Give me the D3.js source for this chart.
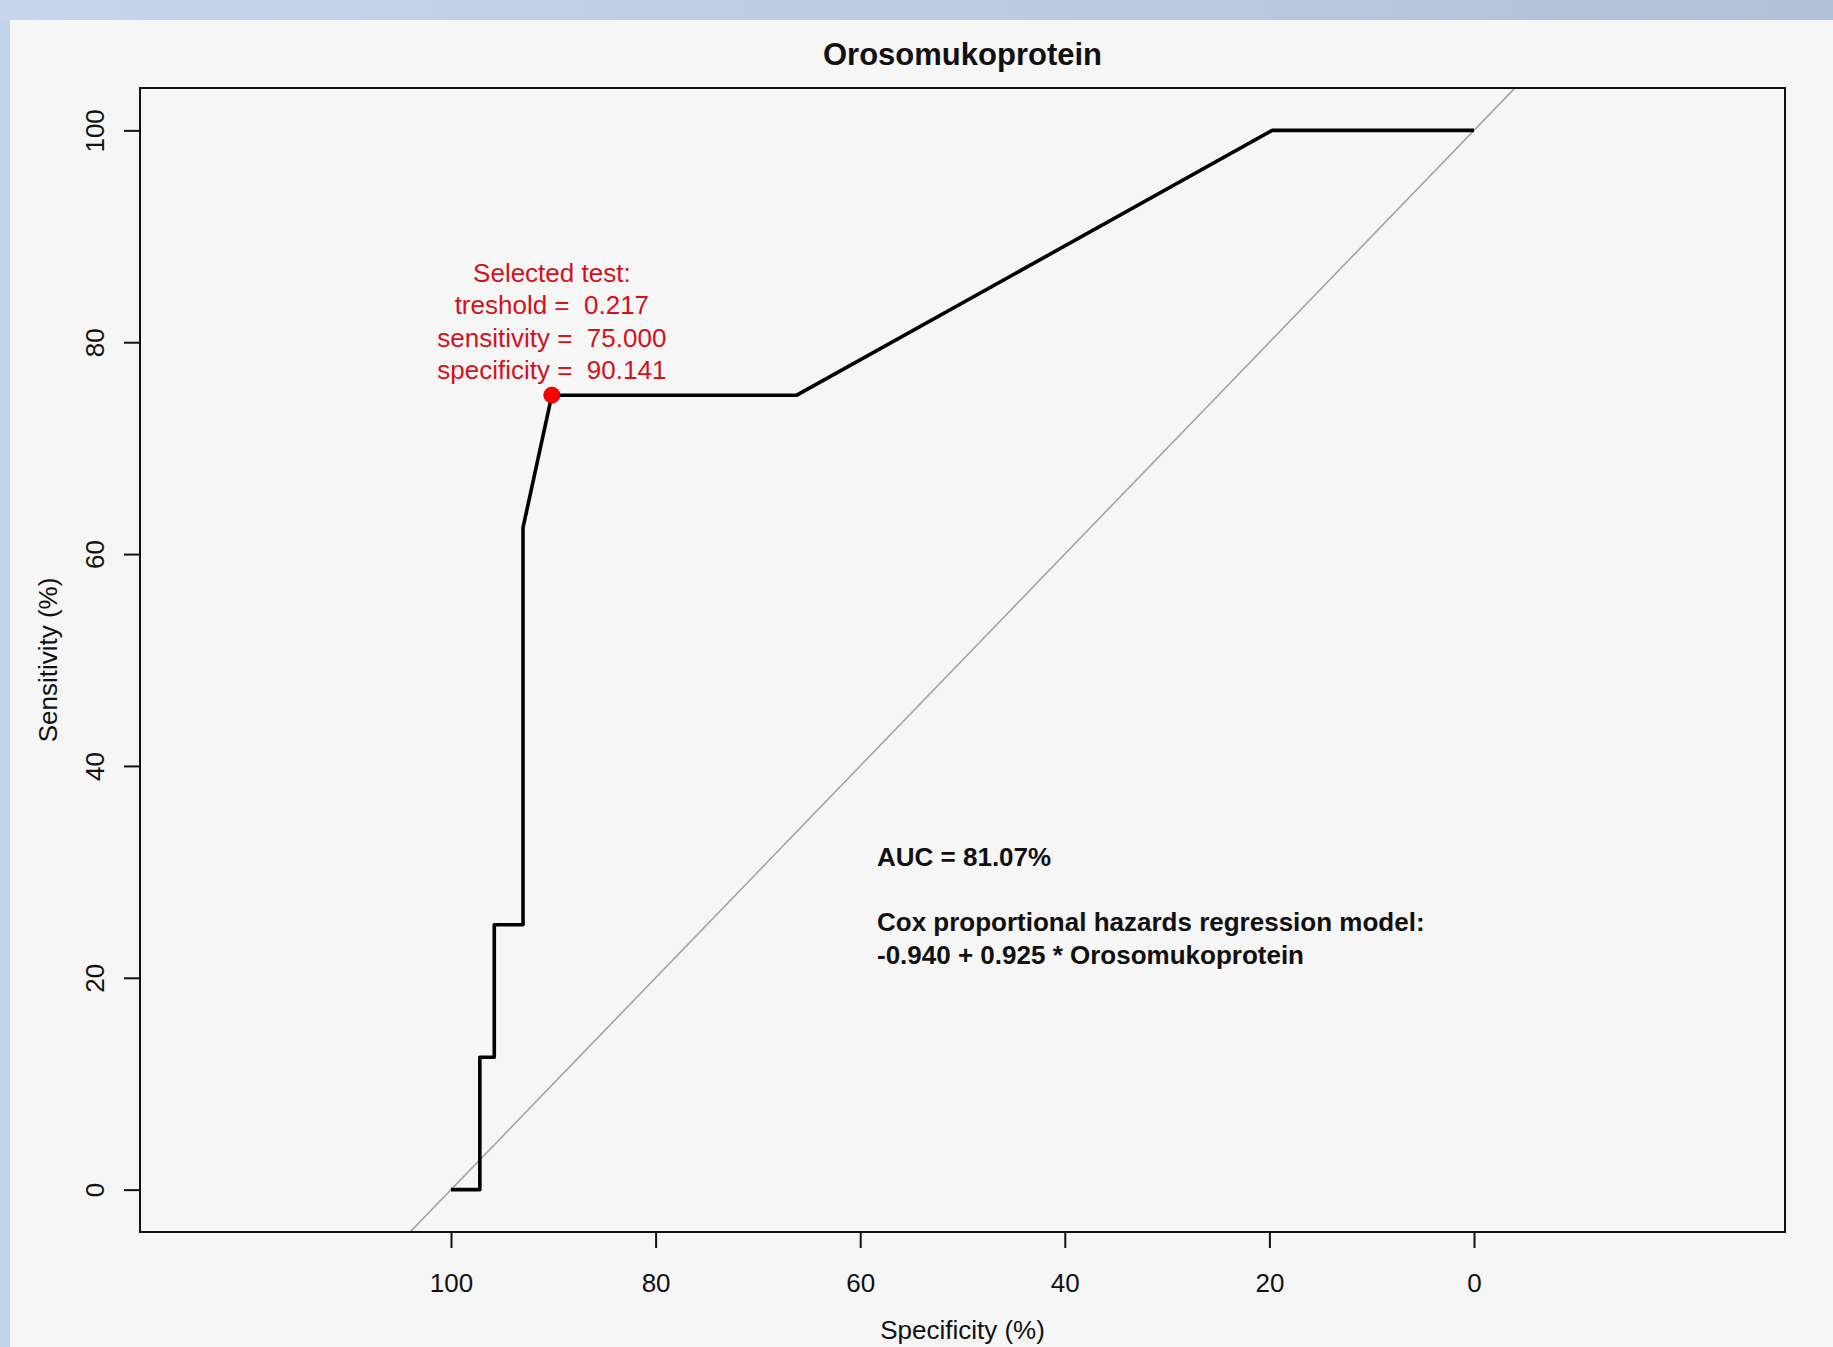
<!DOCTYPE html>
<html>
<head>
<meta charset="utf-8">
<script src="https://cdn.jsdelivr.net/npm/d3@7"></script>
<style>
  body { margin: 0; background: #f6f6f6; }
  svg { display: block; font-family: "Liberation Sans", Arial, Helvetica, sans-serif; }
</style>
</head>
<body>
<div id="chart"></div>
<script>
// ROC curve points (specificity %, sensitivity %)
const specificity = [100, 97.18, 97.18, 95.77, 95.77, 92.96, 92.96, 90.14, 66.20, 19.72, 0];
const sensitivity = [0, 0, 12.5, 12.5, 25, 25, 62.5, 75, 75, 100, 100];

const selected = { sp: 90.141, se: 75 };
const selectedLines = ["Selected test:", "treshold =  0.217", "sensitivity =  75.000", "specificity =  90.141"];
const infoLines = ["AUC = 81.07%", "", "Cox proportional hazards regression model:", "-0.940 + 0.925 * Orosomukoprotein"];

const xTicks = [100, 80, 60, 40, 20, 0];
const yTicks = [0, 20, 40, 60, 80, 100];

const width = 1833, height = 1347;
const box = { left: 140, right: 1785, top: 88, bottom: 1232 };

const svg = d3.select("#chart").append("svg")
    .attr("width", width)
    .attr("height", height);

// window frame behind the plot
const defs = svg.append("defs");
const grad = defs.append("linearGradient").attr("id", "frame")
    .attr("x1", 0).attr("y1", 0).attr("x2", 1).attr("y2", 0);
grad.append("stop").attr("offset", 0).attr("stop-color", "#c4d6ed");
grad.append("stop").attr("offset", 0.45).attr("stop-color", "#bccde4");
grad.append("stop").attr("offset", 1).attr("stop-color", "#b0c1d9");
svg.append("rect").attr("width", width).attr("height", height).attr("fill", "url(#frame)");
svg.append("rect").attr("x", 0).attr("y", 20).attr("width", 10).attr("height", height - 20)
    .attr("fill", "#c2d4ec");
svg.append("rect").attr("x", 10).attr("y", 20).attr("width", width - 10).attr("height", height - 20)
    .attr("fill", "#f6f6f6");

// scales: reversed specificity axis like pROC
const x = d3.scaleLinear().domain([130.4, -30.4]).range([box.left, box.right]);
const y = d3.scaleLinear().domain([-4, 104]).range([box.bottom, box.top]);

// x axis
const xAxis = svg.append("g")
    .attr("transform", `translate(0,${box.bottom})`)
    .call(d3.axisBottom(x).tickValues(xTicks).tickSize(16).tickSizeOuter(0));
xAxis.select(".domain").remove();
xAxis.selectAll(".tick line").attr("stroke", "#111").attr("stroke-width", 2);
xAxis.selectAll(".tick text")
    .attr("y", 60).attr("dy", 0)
    .attr("fill", "#111")
    .style("font-size", "26px");

// y axis with rotated labels
const yAxis = svg.append("g")
    .attr("transform", `translate(${box.left},0)`)
    .call(d3.axisLeft(y).tickValues(yTicks).tickSize(16).tickSizeOuter(0));
yAxis.select(".domain").remove();
yAxis.selectAll(".tick line").attr("stroke", "#111").attr("stroke-width", 2);
yAxis.selectAll(".tick text")
    .attr("x", null).attr("dy", null)
    .attr("text-anchor", "middle")
    .attr("transform", "translate(-36,0) rotate(-90)")
    .attr("fill", "#111")
    .style("font-size", "26px");

// diagonal reference line, clipped to plot box
defs.append("clipPath").attr("id", "plotclip")
    .append("rect")
    .attr("x", box.left).attr("y", box.top)
    .attr("width", box.right - box.left).attr("height", box.bottom - box.top);

const diag = [x.domain()[0], x.domain()[1]];
svg.append("line")
    .attr("clip-path", "url(#plotclip)")
    .attr("x1", x(diag[0])).attr("y1", y(100 - diag[0]))
    .attr("x2", x(diag[1])).attr("y2", y(100 - diag[1]))
    .attr("stroke", "#a3a3a3")
    .attr("stroke-width", 1.6);

// ROC curve
const points = specificity.map((sp, i) => ({ sp: sp, se: sensitivity[i] }));
const line = d3.line().x(d => x(d.sp)).y(d => y(d.se));
svg.append("path")
    .datum(points)
    .attr("fill", "none")
    .attr("stroke", "#000")
    .attr("stroke-width", 3.6)
    .attr("stroke-linejoin", "round")
    .attr("d", line);

// plot box
svg.append("rect")
    .attr("x", box.left).attr("y", box.top)
    .attr("width", box.right - box.left).attr("height", box.bottom - box.top)
    .attr("fill", "none")
    .attr("stroke", "#111")
    .attr("stroke-width", 2);

// selected threshold point
svg.append("circle")
    .attr("cx", x(selected.sp))
    .attr("cy", y(selected.se))
    .attr("r", 8)
    .attr("fill", "#ff0000")
    .attr("stroke", "#d00000")
    .attr("stroke-width", 1);

svg.append("g").selectAll("text")
    .data(selectedLines)
    .enter().append("text")
    .attr("x", x(selected.sp))
    .attr("y", (d, i) => y(selected.se) - 16 - (selectedLines.length - 1 - i) * 32.5)
    .attr("text-anchor", "middle")
    .style("white-space", "pre")
    .style("font-size", "26px")
    .attr("fill", "#d3121b")
    .text(d => d);

// AUC and model text
svg.append("g").selectAll("text")
    .data(infoLines)
    .enter().append("text")
    .attr("x", 877)
    .attr("y", (d, i) => 866 + i * 32.7)
    .style("font-size", "26px")
    .style("font-weight", "bold")
    .attr("fill", "#111")
    .text(d => d);

// titles
svg.append("text")
    .attr("x", (box.left + box.right) / 2)
    .attr("y", 65)
    .attr("text-anchor", "middle")
    .style("font-size", "31px")
    .style("font-weight", "bold")
    .attr("fill", "#111")
    .text("Orosomukoprotein");

svg.append("text")
    .attr("x", (box.left + box.right) / 2)
    .attr("y", 1339)
    .attr("text-anchor", "middle")
    .style("font-size", "26px")
    .attr("fill", "#111")
    .text("Specificity (%)");

svg.append("text")
    .attr("transform", `translate(57,${(box.top + box.bottom) / 2}) rotate(-90)`)
    .attr("text-anchor", "middle")
    .style("font-size", "26px")
    .attr("fill", "#111")
    .text("Sensitivity (%)");
</script>
</body>
</html>
